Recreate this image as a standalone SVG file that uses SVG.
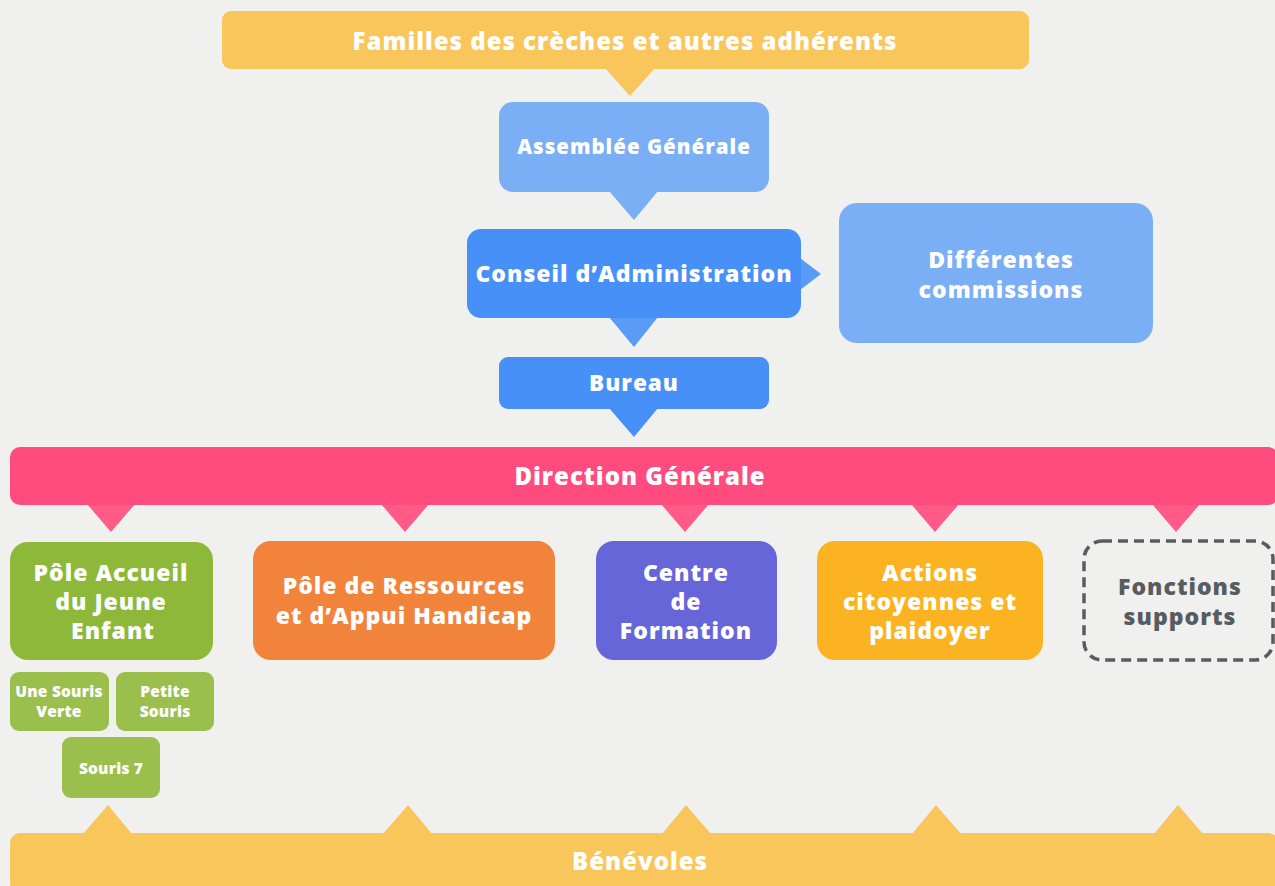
<svg xmlns="http://www.w3.org/2000/svg" width="1275" height="886" viewBox="0 0 1275 886">
<style>
text{font-family:"Open Sans","Noto Sans","DejaVu Sans",sans-serif;font-weight:800;fill:#fff;text-anchor:middle;letter-spacing:1px}
.t22{font-size:24px}
.t20{font-size:20.5px}
.tb{font-size:22.5px}
.t21{font-size:23px}
.t14{font-size:15.5px;letter-spacing:0.2px}
.gray{fill:#575c5f}
</style>
<rect x="0" y="0" width="1275" height="886" fill="#f0f0ee"/>
<g id="connectors">
<polygon points="605,68 655,68 630,96" fill="#f8c65a"/>
<polygon points="609,191 658,191 634,220" fill="#7aaef5"/>
<polygon points="800,258 800,290 821,274" fill="#5a9bf6"/>
<polygon points="609,317 658,317 634,347" fill="#5a9bf6"/>
<polygon points="609,408 658,408 634,437" fill="#4790f7"/>
<polygon points="87,504 135,504 111,532" fill="#ff5a88"/>
<polygon points="381,504 429,504 405,532" fill="#ff5a88"/>
<polygon points="661,504 709,504 685,532" fill="#ff5a88"/>
<polygon points="911,504 959,504 935,532" fill="#ff5a88"/>
<polygon points="1152,504 1200,504 1176,532" fill="#ff5a88"/>
<polygon points="83,834 132,834 108,805" fill="#f8c65a"/>
<polygon points="383,834 432,834 408,805" fill="#f8c65a"/>
<polygon points="662,834 711,834 686,805" fill="#f8c65a"/>
<polygon points="912,834 961,834 936,805" fill="#f8c65a"/>
<polygon points="1154,834 1203,834 1178,805" fill="#f8c65a"/>
</g>
<g id="familles">
<rect x="222" y="11" width="807" height="58" rx="9" fill="#f8c65a"/>
<text class="t22" x="625" y="50">Familles des crèches et autres adhérents</text>
</g>
<g id="assemblee">
<rect x="499" y="102" width="270" height="90" rx="14" fill="#7aaef5"/>
<text class="t20" x="634" y="154">Assemblée Générale</text>
</g>
<g id="conseil">
<rect x="467" y="229" width="334" height="89" rx="14" fill="#4790f7"/>
<text class="t21" x="634" y="282">Conseil d’Administration</text>
</g>
<g id="commissions">
<rect x="839" y="203" width="314" height="140" rx="18" fill="#7aaef5"/>
<text class="t21" x="1001" y="268">Différentes</text>
<text class="t21" x="1001" y="298">commissions</text>
</g>
<g id="bureau">
<rect x="499" y="357" width="270" height="52" rx="9" fill="#4790f7"/>
<text class="tb" x="634" y="391">Bureau</text>
</g>
<g id="direction">
<rect x="10" y="447" width="1268" height="58" rx="10" fill="#ff4b7d"/>
<text class="t22" x="640" y="485">Direction Générale</text>
</g>
<g id="pole-accueil">
<rect x="10" y="542" width="203" height="118" rx="18" fill="#8db83a"/>
<text class="t21" x="111" y="581">Pôle Accueil</text>
<text class="t21" x="111" y="610">du Jeune</text>
<text class="t21" x="113" y="639">Enfant</text>
</g>
<g id="une-souris-verte">
<rect x="10" y="672" width="99" height="59" rx="9" fill="#9bbf4c"/>
<text class="t14" x="59" y="697">Une Souris</text>
<text class="t14" x="59" y="717">Verte</text>
</g>
<g id="petite-souris">
<rect x="116" y="672" width="98" height="59" rx="9" fill="#9bbf4c"/>
<text class="t14" x="165" y="697">Petite</text>
<text class="t14" x="165" y="717">Souris</text>
</g>
<g id="souris-7">
<rect x="62" y="737" width="98" height="61" rx="9" fill="#9bbf4c"/>
<text class="t14" x="111" y="774">Souris 7</text>
</g>
<g id="pole-ressources">
<rect x="253" y="541" width="302" height="119" rx="18" fill="#f2833b"/>
<text class="t21" x="404" y="594">Pôle de Ressources</text>
<text class="t21" x="404" y="624">et d’Appui Handicap</text>
</g>
<g id="centre-formation">
<rect x="596" y="541" width="181" height="119" rx="18" fill="#6766d8"/>
<text class="t21" x="686" y="581">Centre</text>
<text class="t21" x="686" y="610">de</text>
<text class="t21" x="686" y="639">Formation</text>
</g>
<g id="actions">
<rect x="817" y="541" width="226" height="119" rx="18" fill="#fcb321"/>
<text class="t21" x="930" y="581">Actions</text>
<text class="t21" x="930" y="610">citoyennes et</text>
<text class="t21" x="930" y="639">plaidoyer</text>
</g>
<g id="fonctions-supports">
<rect x="1084" y="541" width="189" height="119" rx="18" fill="none" stroke="#575c5f" stroke-width="3.5" stroke-dasharray="10,6"/>
<text class="t21 gray" x="1180" y="595">Fonctions</text>
<text class="t21 gray" x="1180" y="625">supports</text>
</g>
<g id="benevoles">
<rect x="10" y="833" width="1268" height="60" rx="10" fill="#f8c65a"/>
<text class="t22" x="640" y="870">Bénévoles</text>
</g>
</svg>
